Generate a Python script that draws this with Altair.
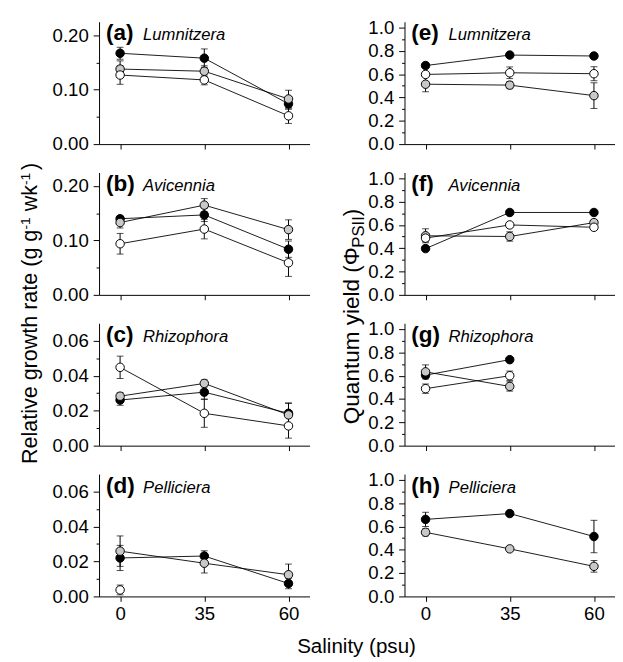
import altair as alt
import pandas as pd

FONT = "Liberation Sans"

salinity = ["0", "35", "60"]
series_order = ["black", "gray", "white"]
fill_colors = ["#000000", "#c8c8c8", "#ffffff"]

species = ["Lumnitzera", "Avicennia", "Rhizophora", "Pelliciera"]
rgr_letters = ["(a)", "(b)", "(c)", "(d)"]
qy_letters = ["(e)", "(f)", "(g)", "(h)"]

# Relative growth rate (g g-1 wk-1): means and error bars
rgr_lumnitzera = {"black": [0.167, 0.158, 0.074], "gray": [0.138, 0.134, 0.083], "white": [0.127, 0.118, 0.052]}
rgr_lumnitzera_se = {"black": [0.011, 0.017, 0.010], "gray": [0.015, 0.010, 0.016], "white": [0.017, 0.009, 0.014]}
rgr_avicennia = {"black": [0.140, 0.147, 0.084], "gray": [0.133, 0.165, 0.120], "white": [0.094, 0.121, 0.059]}
rgr_avicennia_se = {"black": [0.005, 0.012, 0.015], "gray": [0.010, 0.012, 0.018], "white": [0.019, 0.018, 0.025]}
rgr_rhizophora = {"black": [0.0261, 0.0306, 0.0185], "gray": [0.0283, 0.0356, 0.0176], "white": [0.0448, 0.0185, 0.0113]}
rgr_rhizophora_se = {"black": [0.003, 0.004, 0.006], "gray": [0.002, 0.002, 0.0065], "white": [0.0064, 0.008, 0.007]}
rgr_pelliciera = {"black": [0.0220, 0.0231, 0.0074], "gray": [0.0259, 0.0190, 0.0124], "white": [0.0037, None, None]}
rgr_pelliciera_se = {"black": [0.0072, 0.003, 0.003], "gray": [0.0087, 0.0056, 0.0061], "white": [0.0028, None, None]}

# Quantum yield (Phi PSII): means and error bars
qy_lumnitzera = {"black": [0.674, 0.764, 0.756], "gray": [0.514, 0.506, 0.416], "white": [0.598, 0.612, 0.604]}
qy_lumnitzera_se = {"black": [0.01, 0.01, 0.01], "gray": [0.065, 0.03, 0.11], "white": [0.02, 0.05, 0.06]}
qy_avicennia = {"black": [0.397, 0.707, 0.707], "gray": [0.507, 0.501, 0.620], "white": [0.487, 0.600, 0.580]}
qy_avicennia_se = {"black": [0.02, 0.01, 0.01], "gray": [0.06, 0.04, 0.02], "white": [0.03, 0.01, 0.01]}
qy_rhizophora = {"black": [0.605, 0.738, None], "gray": [0.633, 0.508, None], "white": [0.489, 0.600, None]}
qy_rhizophora_se = {"black": [0.02, 0.01, None], "gray": [0.06, 0.04, None], "white": [0.04, 0.04, None]}
qy_pelliciera = {"black": [0.661, 0.711, 0.514], "gray": [0.550, 0.408, 0.258], "white": [None, None, None]}
qy_pelliciera_se = {"black": [0.061, 0.01, 0.139], "gray": [0.03, 0.01, 0.05], "white": [None, None, None]}

rgr_means = [rgr_lumnitzera, rgr_avicennia, rgr_rhizophora, rgr_pelliciera]
rgr_ses = [rgr_lumnitzera_se, rgr_avicennia_se, rgr_rhizophora_se, rgr_pelliciera_se]
qy_means = [qy_lumnitzera, qy_avicennia, qy_rhizophora, qy_pelliciera]
qy_ses = [qy_lumnitzera_se, qy_avicennia_se, qy_rhizophora_se, qy_pelliciera_se]

PW, PH = 215, 125
TICK_FS = 19
TITLE_FS = 22

# Arial-compatible advance widths (per 1000 em) for laying out the rotated titles
W = {' ': 278, '(': 333, ')': 333, '-': 333, '1': 556, 'R': 722, 'e': 556, 'l': 222, 'a': 556,
     't': 278, 'i': 222, 'v': 500, 'g': 556, 'r': 333, 'o': 556, 'w': 722, 'h': 556, 'k': 500,
     'Q': 778, 'u': 556, 'n': 556, 'm': 833, 'y': 500, 'd': 556, 'Φ': 780, 'P': 667, 'S': 667, 'I': 278}


def tw(s, fs):
    return sum(W.get(c, 556) for c in s) / 1000 * fs


def text_layer(txt, x, y, size, weight="normal", style="normal", angle=0, align="left"):
    return alt.Chart(pd.DataFrame({"t": [txt]})).mark_text(
        align=align, baseline="alphabetic", font=FONT, fontSize=size,
        fontWeight=weight, fontStyle=style, angle=angle, color="black"
    ).encode(x=alt.value(x), y=alt.value(y), text="t:N")


def rotated_title(pieces, xb, yc):
    total = sum(tw(t, fs) + gap for t, fs, sh, gap in pieces)
    y = yc + total / 2
    out = []
    for t, fs, sh, gap in pieces:
        y -= gap
        out.append(text_layer(t, xb + sh, y, fs, angle=270))
        y -= tw(t, fs)
    return out


def panel(means, ses, ydom, yvals, minor_test, fmt, letter, name, bottom, extra=()):
    rows = []
    for s in series_order:
        for i, sal in enumerate(salinity):
            m = means[s][i]
            if m is None:
                continue
            e = ses[s][i] or 0.0
            rows.append({"series": s, "salinity": sal, "mean": m, "lo": m - e, "hi": m + e})
    df = pd.DataFrame(rows)
    xenc = alt.X("salinity:O", sort=salinity,
                 scale=alt.Scale(type="point", domain=salinity, padding=0.25),
                 axis=alt.Axis(title=None, labels=bottom, labelAngle=0, tickSize=5,
                               labelPadding=4, labelFontSize=TICK_FS))
    yscale = alt.Scale(domain=ydom, nice=False, zero=False)
    yaxis = alt.Axis(title=None, values=yvals,
                     labelExpr=f"({minor_test}) ? '' : format(datum.value, '{fmt}')",
                     tickSize={"condition": {"test": minor_test, "value": 3}, "value": 6},
                     labelPadding=5, labelFontSize=TICK_FS)
    base = alt.Chart(df)
    rule = base.mark_rule(color="black", strokeWidth=1).encode(
        x=xenc, y=alt.Y("lo:Q", scale=yscale, axis=yaxis), y2="hi:Q")
    cap_lo = base.mark_tick(color="black", thickness=1, size=7, orient="horizontal").encode(
        x=xenc, y=alt.Y("lo:Q", scale=yscale, axis=yaxis))
    cap_hi = base.mark_tick(color="black", thickness=1, size=7, orient="horizontal").encode(
        x=xenc, y=alt.Y("hi:Q", scale=yscale, axis=yaxis))
    line = base.mark_line(color="black", strokeWidth=0.9).encode(
        x=xenc, y=alt.Y("mean:Q", scale=yscale, axis=yaxis), detail="series:N")
    pts = base.mark_circle(size=75, stroke="black", strokeWidth=1, opacity=1).encode(
        x=xenc, y=alt.Y("mean:Q", scale=yscale, axis=yaxis),
        fill=alt.Fill("series:N", scale=alt.Scale(domain=series_order, range=fill_colors), legend=None))
    labels = [text_layer(letter, 7, 19, 23, weight="bold"),
              text_layer(name, 45, 19, 17, style="italic")]
    return alt.layer(rule, cap_lo, cap_hi, line, pts, *labels, *extra).properties(width=PW, height=PH)


left_title = rotated_title(
    [("Relative growth rate (g g", TITLE_FS, 0, 0), ("-1", 14, -8, 0),
     ("wk", TITLE_FS, 0, tw(" ", TITLE_FS)), ("-1", 14, -8, 0), (")", TITLE_FS, 0, tw(" ", 10))],
    -63, 144)
right_title = rotated_title(
    [("Quantum yield (Φ", 23, 0, 0), ("PSII", 17, 5, 0), (")", 23, 0, 0)],
    -46, 147)
x_title = [text_layer("Salinity (psu)", 263, 183, 21, align="center")]

rgr_big = dict(ydom=[0, 0.225], yvals=[0, 0.05, 0.1, 0.15, 0.2],
               minor_test="round(datum.value*100) % 10 != 0", fmt=".2f")
rgr_small = dict(ydom=[0, 0.07], yvals=[0, 0.01, 0.02, 0.03, 0.04, 0.05, 0.06],
                 minor_test="round(datum.value*100) % 2 != 0", fmt=".2f")
qy_axis = dict(ydom=[0, 1.05], yvals=[round(v * 0.1, 1) for v in range(11)],
               minor_test="round(datum.value*10) % 2 != 0", fmt=".1f")

rgr_cfg = [rgr_big, rgr_big, rgr_small, rgr_small]
panels = []
for k in range(4):
    bottom = k == 3
    extra_l = left_title if k == 1 else (x_title if k == 3 else ())
    extra_r = right_title if k == 1 else ()
    panels.append(panel(rgr_means[k], rgr_ses[k], letter=rgr_letters[k], name=species[k],
                        bottom=bottom, extra=extra_l, **rgr_cfg[k]))
    panels.append(panel(qy_means[k], qy_ses[k], letter=qy_letters[k], name=species[k],
                        bottom=bottom, extra=extra_r, **qy_axis))

chart = alt.concat(*panels, columns=2, spacing={"row": 29, "column": 97}, bounds="flush").properties(
    padding={"left": 11, "top": 3, "right": 0, "bottom": 0}
).configure_view(stroke=None).configure_axis(
    domainColor="black", tickColor="black", labelColor="black", labelFont=FONT,
    grid=False, domainWidth=1, tickWidth=1
)

chart.save("out.html", embed_options={"renderer": "svg", "actions": False})
